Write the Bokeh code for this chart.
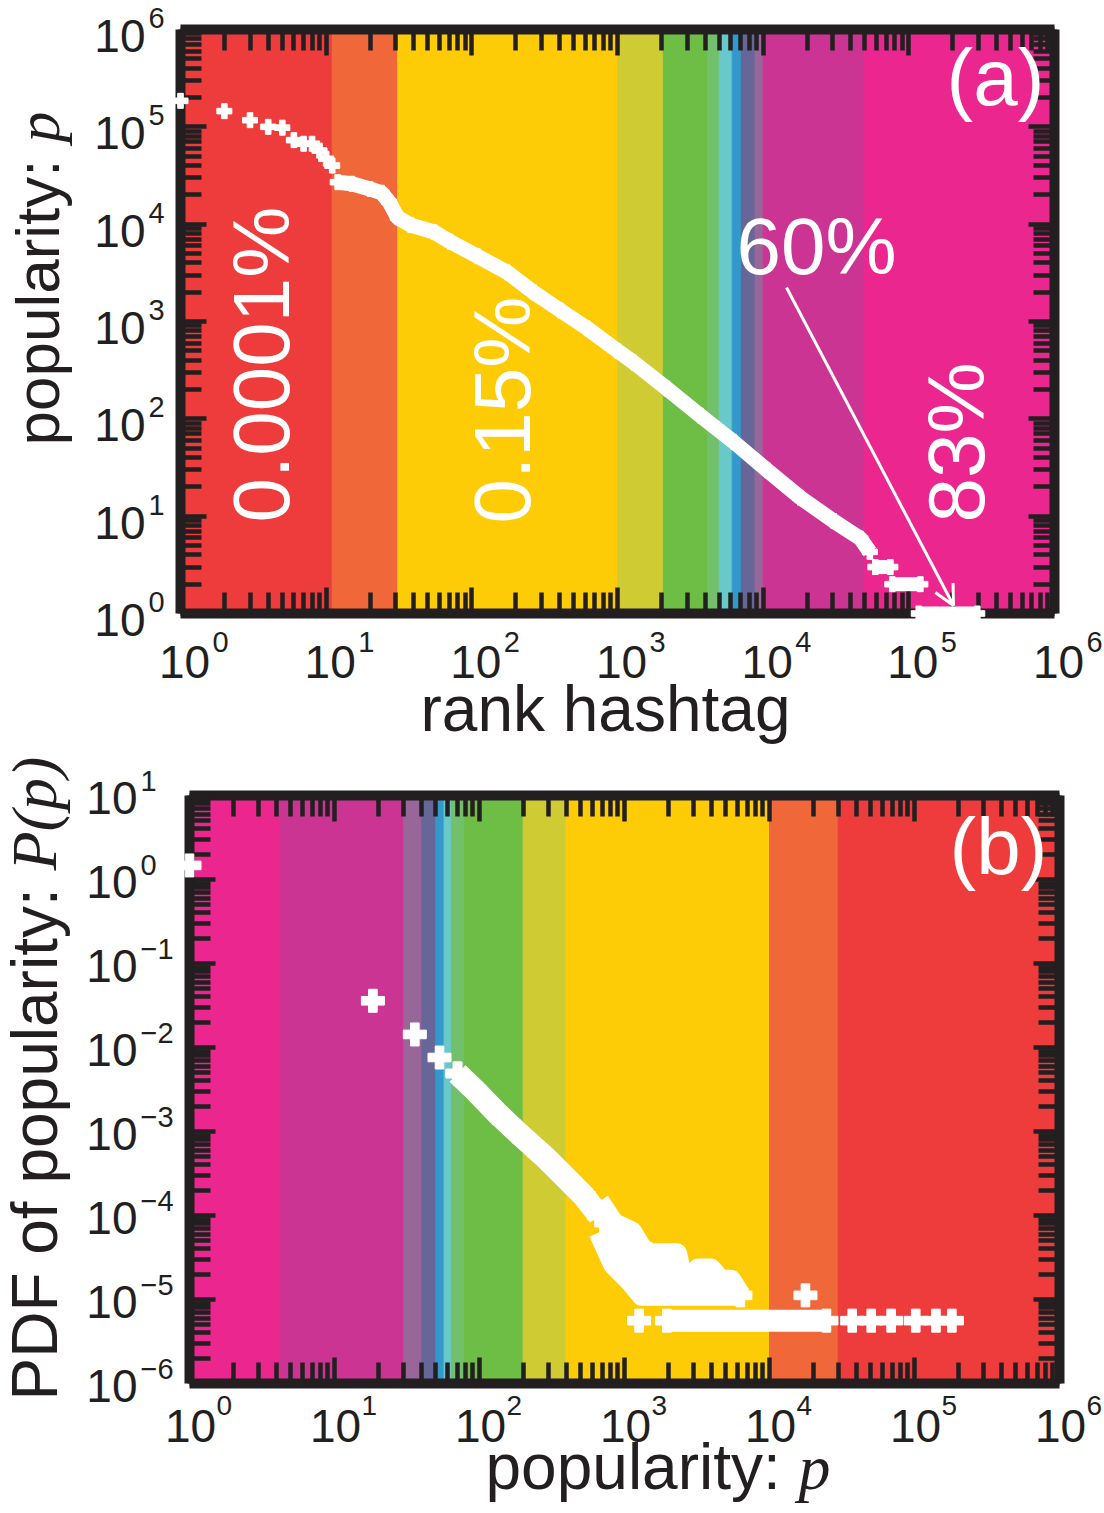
import math
from bokeh.plotting import figure
from bokeh.layouts import column
from bokeh.core.properties import value
from bokeh.models import (Range1d, FixedTicker, LogAxis, Arrow, OpenHead,
                          CustomJSTickFormatter)
from bokeh.embed import file_html
from bokeh.resources import INLINE

# ---------------- DATA ----------------
# panel (a): rank vs popularity
rank_band_edges = [1, 11, 31, 1000, 2065, 4140, 5000, 6130, 7080, 8800, 10000, 49500, 1e6]
band_colors = ["#EE3B3B", "#F0673A", "#FDCC07", "#CECB33", "#6EBE45", "#72C06B",
               "#69C8CA", "#3399CC", "#666699", "#996699", "#CC3494", "#EC268F"]

top_rank = [1, 2, 3, 4, 5, 6, 7, 8, 9, 10, 11]
top_pop = [1.85e5, 1.45e5, 1.17e5, 1.0e5, 9.8e4, 7.3e4, 6.7e4, 6.7e4, 5.7e4, 4.7e4, 4.0e4]

curve_rank = [12, 15, 20, 24, 27, 31, 38, 55, 71, 109, 175, 265, 405, 620, 1000,
              1290, 2180, 3700, 6270, 10700, 18000, 30500, 46500, 54000]
curve_pop = [2.7e4, 2.6e4, 2.3e4, 2.1e4, 1.7e4, 1.17e4, 9.8e3, 8.3e3, 6.6e3, 4.7e3,
             3.2e3, 2.0e3, 1.3e3, 850, 500, 380, 205, 108, 58, 29.5, 15.5, 8.9, 5.9, 4.3]

tail_pop = [3, 2, 1]
tail_rank_first = [58900, 77000, 117000]
tail_rank_last = [74700, 120000, 295000]

# panel (b): PDF of popularity
pop_band_edges = [1, 4.2, 30, 40, 50, 57, 64, 79, 200, 395, 10000, 29800, 1e6]
pop_band_colors = list(reversed(band_colors))

sparse_pop = [1, 18.4, 35.8, 53, 70.5]
sparse_pdf = [1.47, 0.036, 0.0143, 0.0076, 0.0049]

pdf_curve_pop = [70.5, 92, 131, 180, 231, 288, 372, 525, 668]
pdf_curve = [4.9e-3, 3.16e-3, 1.68e-3, 1.0e-3, 6.8e-4, 4.8e-4, 3.1e-4, 1.7e-4, 1.0e-4]

fan_pop = [668, 843, 1116, 1320, 1515, 2290, 2480, 2910, 3240, 3930, 4600, 5400, 6300]
fan_hi = [1.47e-4, 8.0e-5, 6.4e-5, 4.0e-5, 3.5e-5, 3.5e-5, 1.9e-5, 1.9e-5, 2.3e-5,
          2.3e-5, 1.7e-5, 1.7e-5, 1.12e-5]
fan_lo = [6.3e-5, 2.6e-5, 1.6e-5, 1.12e-5, 1.12e-5, 1.12e-5, 1.12e-5, 1.12e-5,
          1.12e-5, 1.12e-5, 1.12e-5, 1.12e-5, 1.12e-5]

row1_pdf = 5.6e-6
row1_run_pop = [1960, 24700]
row1_single_pop = [1260, 37200, 50300, 69000, 102000, 140600, 181000]
row2_pdf = 1.12e-5
row2_single_pop = [17700]

# tick labels
x_exponents = ["0", "1", "2", "3", "4", "5", "6"]
a_y_exponents = ["0", "1", "2", "3", "4", "5", "6"]
b_y_exponents = ["\u22126", "\u22125", "\u22124", "\u22123", "\u22122", "\u22121", "0", "1"]

# ---------------- LAYOUT ----------------
W = 1104
H1, H2 = 750, 763
A_L, A_R, A_T, A_B = 180, 1054, 29, 613          # top panel frame (page px)
B_L, B_R, B_T, B_B = 189, 1059, 795, 1383        # bottom panel frame (page px)
BLACK = "#231F20"
SANS = "Liberation Sans"
SERIF = "Liberation Serif"
SHIFT_H = 0.36     # baseline correction (em) for horizontal text
SHIFT_V = 0.40     # baseline correction (em) for rotated text


def ax_(px):
    return 10 ** ((px - A_L) * 6.0 / (A_R - A_L))


def ay_(py):
    return 10 ** ((A_B - py) * 6.0 / (A_B - A_T))


def bx_(px):
    return 10 ** ((px - B_L) * 6.0 / (B_R - B_L))


def by_(py):
    return 10 ** (1 - (py - B_T) * 7.0 / (B_B - B_T))


def txt(p, conv_x, conv_y, pxs, pys, texts, size, color=BLACK, align="left",
        rotated=False, font=SANS, style="normal"):
    """pxs/pys: page-pixel anchor (left/center/right, alphabetic baseline)."""
    if rotated:
        xs = [conv_x(px - SHIFT_V * size) for px in pxs]
        ys = [conv_y(py) for py in pys]
        ang = math.pi / 2
    else:
        xs = [conv_x(px) for px in pxs]
        ys = [conv_y(py - SHIFT_H * size) for py in pys]
        ang = 0.0
    p.text(x=xs, y=ys, text=texts, text_font=value(font), text_font_size=f"{size}px",
           text_font_style=style, text_color=color, text_align=align,
           text_baseline="alphabetic", angle=ang, level="overlay")


def style_axis(ax, ticks, minor):
    ax.ticker = FixedTicker(ticks=ticks, minor_ticks=minor)
    ax.formatter = CustomJSTickFormatter(code="return '';")
    ax.axis_line_width = 10
    ax.axis_line_color = BLACK
    ax.major_tick_in = 26
    ax.major_tick_out = 0
    ax.minor_tick_in = 21
    ax.minor_tick_out = 0
    ax.major_tick_line_width = 4.5
    ax.minor_tick_line_width = 4.5
    ax.major_tick_line_color = BLACK
    ax.minor_tick_line_color = BLACK
    ax.major_label_text_font_size = "10px"
    ax.major_label_standoff = 0


def setup_axes(p, xt, xm, yt, ym):
    p.add_layout(LogAxis(), "above")
    p.add_layout(LogAxis(), "right")
    for ax in p.xaxis:
        style_axis(ax, xt, xm)
    for ax in p.yaxis:
        style_axis(ax, yt, ym)


def minors(k0, k1):
    return [m * 10 ** k for k in range(k0, k1) for m in range(2, 10)]


def new_fig(h, yr, L, R, T, B, top_off):
    p = figure(width=W, height=h, x_axis_type="log", y_axis_type="log",
               x_range=Range1d(1, 1e6), y_range=yr,
               output_backend="svg", toolbar_location=None,
               min_border_left=L, min_border_right=W - R,
               min_border_top=T - top_off, min_border_bottom=top_off + h - B)
    try:
        p.frame_align = False      # keep each panel's own frame position
    except Exception:
        pass
    p.grid.visible = False
    p.outline_line_color = None
    p.background_fill_color = "white"
    p.border_fill_color = "white"
    return p


# ---------------- PANEL (a) ----------------
p1 = new_fig(H1, Range1d(1, 1e6), A_L, A_R, A_T, A_B, 0)
p1.quad(left=rank_band_edges[:-1], right=rank_band_edges[1:], bottom=1, top=1e6,
        fill_color=band_colors, line_color=band_colors, line_width=1)

dec = [10 ** k for k in range(0, 7)]
setup_axes(p1, dec, minors(0, 6), dec, minors(0, 6))

p1.scatter(top_rank, top_pop, marker="plus", size=15, color="white", level="overlay")
p1.line(curve_rank, curve_pop, line_width=15, line_color="white", line_join="round",
        level="overlay")
p1.scatter(curve_rank, curve_pop, marker="plus", size=15, color="white", level="overlay")
p1.segment(x0=tail_rank_first, y0=tail_pop, x1=tail_rank_last, y1=tail_pop,
           line_width=14, line_color="white", level="overlay")
p1.scatter(tail_rank_first + tail_rank_last, tail_pop + tail_pop, marker="plus", size=15,
           color="white", level="overlay")

dA = (A_R - A_L) / 6.0
dyA = (A_B - A_T) / 6.0
xt_px = [A_L + k * dA for k in range(7)]
yt_px = [A_B - k * dyA for k in range(7)]
txt(p1, ax_, ay_, [t + 4 for t in xt_px], [678] * 7, ["10"] * 7, 46, align="center")
txt(p1, ax_, ay_, [t + 32 for t in xt_px], [652] * 7, x_exponents, 29)
txt(p1, ax_, ay_, [145] * 7, [t + 23 for t in yt_px], ["10"] * 7, 46, align="right")
txt(p1, ax_, ay_, [148] * 7, [t - 1 for t in yt_px], a_y_exponents, 29)

# axis titles
txt(p1, ax_, ay_, [62], [445], ["popularity: "], 62, rotated=True)
txt(p1, ax_, ay_, [62], [142], ["p"], 62, rotated=True, font=SERIF, style="italic")
txt(p1, ax_, ay_, [605], [732], ["rank hashtag"], 64, align="center")

# annotations
txt(p1, ax_, ay_, [293, 534, 988], [522, 523, 522], ["0.0001%", "0.15%", "83%"], 80,
    color="white", rotated=True)
txt(p1, ax_, ay_, [736, 946], [275, 106], ["60%", "(a)"], 80, color="white")
p1.add_layout(Arrow(end=OpenHead(size=20, line_color="white", line_width=3),
                    x_start=ax_(786), y_start=ay_(287), x_end=ax_(953), y_end=ay_(605),
                    line_color="white", line_width=3))

# ---------------- PANEL (b) ----------------
p2 = new_fig(H2, Range1d(1e-6, 10), B_L, B_R, B_T, B_B, H1)
p2.quad(left=pop_band_edges[:-1], right=pop_band_edges[1:], bottom=1e-6, top=10,
        fill_color=pop_band_colors, line_color=pop_band_colors, line_width=1)

ydec = [10 ** k for k in range(-6, 2)]
setup_axes(p2, dec, minors(0, 6), ydec, minors(-6, 1))

p2.scatter(sparse_pop, sparse_pdf, marker="plus", size=23, color="white", level="overlay")
p2.line(pdf_curve_pop, pdf_curve, line_width=23, line_color="white", line_join="round",
        level="overlay")
p2.scatter(pdf_curve_pop, pdf_curve, marker="plus", size=23, color="white", level="overlay")
p2.varea(x=fan_pop, y1=fan_lo, y2=fan_hi, fill_color="white", level="overlay")
p2.line(fan_pop, fan_hi, line_width=21, line_color="white", line_join="round", level="overlay")
p2.line(fan_pop, fan_lo, line_width=21, line_color="white", line_join="round", level="overlay")
p2.scatter([fan_pop[-1]], [fan_lo[-1]], marker="plus", size=23, color="white", level="overlay")
p2.segment(x0=[row1_run_pop[0]], y0=[row1_pdf], x1=[row1_run_pop[1]], y1=[row1_pdf],
           line_width=22, line_color="white", level="overlay")
p2.scatter(row1_run_pop + row1_single_pop, [row1_pdf] * (2 + len(row1_single_pop)),
           marker="plus", size=23, color="white", level="overlay")
p2.scatter(row2_single_pop, [row2_pdf], marker="plus", size=23, color="white", level="overlay")

dB = (B_R - B_L) / 6.0
dyB = (B_B - B_T) / 7.0
bxt_px = [B_L + k * dB for k in range(7)]
byt_px = [B_T + (1 - k) * dyB for k in range(-6, 2)]
txt(p2, bx_, by_, [t + 1 for t in bxt_px], [1442] * 7, ["10"] * 7, 46, align="center")
txt(p2, bx_, by_, [t + 27 for t in bxt_px], [1415] * 7, x_exponents, 28)
txt(p2, bx_, by_, [137] * 8, [t + 19 for t in byt_px], ["10"] * 8, 46, align="right")
txt(p2, bx_, by_, [140] * 8, [t - 4 for t in byt_px], b_y_exponents, 29)

txt(p2, bx_, by_, [60], [1400], ["PDF of popularity: "], 64, rotated=True)
txt(p2, bx_, by_, [60], [870], ["P(p)"], 64, rotated=True, font=SERIF, style="italic")
txt(p2, bx_, by_, [485], [1490], ["popularity: "], 64)
txt(p2, bx_, by_, [798], [1490], ["p"], 64, font=SERIF, style="italic")
txt(p2, bx_, by_, [949], [875], ["(b)"], 80, color="white")

layout = column(p1, p2, spacing=0)
open("out.html", "w").write(file_html(layout, INLINE))
